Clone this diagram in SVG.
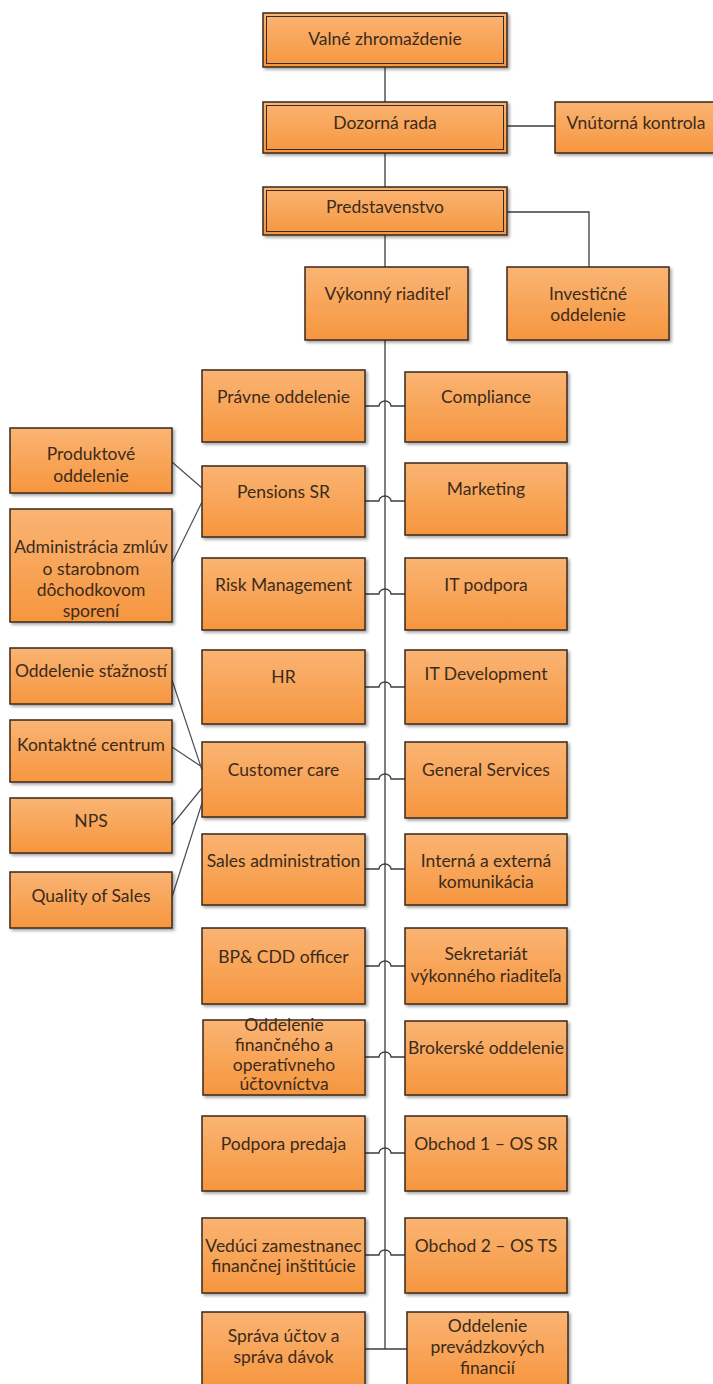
<svg xmlns="http://www.w3.org/2000/svg" width="713" height="1384" viewBox="0 0 713 1384">
<defs>
<linearGradient id="og" x1="0" y1="0" x2="0" y2="1">
<stop offset="0" stop-color="#FAB473"/>
<stop offset="1" stop-color="#F6963F"/>
</linearGradient>
<filter id="sh" x="-10%" y="-10%" width="130%" height="130%">
<feDropShadow dx="2" dy="2" stdDeviation="1.5" flood-color="#000" flood-opacity="0.35"/>
</filter>
</defs>
<style>
.b{fill:url(#og);stroke:#3a2a1c;stroke-width:1.5;filter:url(#sh)}
.bi{fill:none;stroke:#3a2a1c;stroke-width:1}
.t{font-family:Lato,"Open Sans",sans-serif;font-size:17.5px;fill:#3b2b1c;text-anchor:middle}
.c{fill:none;stroke:#3c3c3c;stroke-width:1.3}
.d{fill:none;stroke:#4a4e5a;stroke-width:1.2}
</style>
<rect width="713" height="1384" fill="#fff"/>
<g id="connectors">
<path class="c" d="M385,67V102M385,153V187M385,235V267M507,126H555M507,212H589V267M385,340V1349"/>
<path class="c" d="M365,406H379A6,5 0 0 1 391,406H405"/>
<path class="c" d="M365,501H379A6,5 0 0 1 391,501H405"/>
<path class="c" d="M365,594H379A6,5 0 0 1 391,594H405"/>
<path class="c" d="M365,687H379A6,5 0 0 1 391,687H405"/>
<path class="c" d="M365,779H379A6,5 0 0 1 391,779H405"/>
<path class="c" d="M365,869H379A6,5 0 0 1 391,869H405"/>
<path class="c" d="M365,966H379A6,5 0 0 1 391,966H405"/>
<path class="c" d="M365,1057H379A6,5 0 0 1 391,1057H405"/>
<path class="c" d="M365,1153H379A6,5 0 0 1 391,1153H405"/>
<path class="c" d="M365,1255H379A6,5 0 0 1 391,1255H405"/>
<path class="c" d="M365,1349H407"/>
<path class="d" d="M172,462L202,488M172,563L202,502M172,680L202,770M172,747L202,767M172,825L202,788M172,897L202,803"/>
</g>
<g id="valne"><rect class="b" x="263" y="13" width="244" height="54"/><rect class="bi" x="266.5" y="16.5" width="237" height="47"/><text class="t" x="385" y="45">Valné zhromaždenie</text></g>
<g id="dozorna"><rect class="b" x="263" y="102" width="244" height="51"/><rect class="bi" x="266.5" y="105.5" width="237" height="44"/><text class="t" x="385" y="129">Dozorná rada</text></g>
<g id="vnutorna"><rect class="b" x="555" y="102" width="162" height="51"/><text class="t" x="636" y="129">Vnútorná kontrola</text></g>
<g id="predstavenstvo"><rect class="b" x="263" y="187" width="244" height="48"/><rect class="bi" x="266.5" y="190.5" width="237" height="41"/><text class="t" x="385" y="213">Predstavenstvo</text></g>
<g id="vykonny"><rect class="b" x="305" y="267" width="163" height="73"/><text class="t" x="386.5" y="300">Výkonný riaditeľ</text></g>
<g id="investicne"><rect class="b" x="507" y="267" width="162" height="73"/><text class="t" x="588" y="300">Investičné</text><text class="t" x="588" y="321">oddelenie</text></g>

<g id="pravne"><rect class="b" x="202" y="370" width="163" height="72"/><text class="t" x="283.5" y="403">Právne oddelenie</text></g>
<g id="pensions"><rect class="b" x="202" y="466" width="163" height="71"/><text class="t" x="283.5" y="498">Pensions SR</text></g>
<g id="risk"><rect class="b" x="202" y="558" width="163" height="72"/><text class="t" x="283.5" y="591">Risk Management</text></g>
<g id="hr"><rect class="b" x="202" y="650" width="163" height="74"/><text class="t" x="283.5" y="683">HR</text></g>
<g id="customercare"><rect class="b" x="202" y="742" width="163" height="75"/><text class="t" x="283.5" y="776">Customer care</text></g>
<g id="salesadmin"><rect class="b" x="202" y="834" width="163" height="71"/><text class="t" x="283.5" y="867">Sales administration</text></g>
<g id="bpcdd"><rect class="b" x="202" y="928" width="163" height="76"/><text class="t" x="283.5" y="963">BP&amp; CDD officer</text></g>
<g id="financne"><rect class="b" x="203" y="1020" width="162" height="75"/><text class="t" x="284" y="1031">Oddelenie</text><text class="t" x="284" y="1051">finančného a</text><text class="t" x="284" y="1071">operatívneho</text><text class="t" x="284" y="1090">účtovníctva</text></g>
<g id="podpora"><rect class="b" x="202" y="1116" width="163" height="75"/><text class="t" x="283.5" y="1150">Podpora predaja</text></g>
<g id="veduci"><rect class="b" x="202" y="1218" width="163" height="75"/><text class="t" x="283.5" y="1252">Vedúci zamestnanec</text><text class="t" x="283.5" y="1272">finančnej inštitúcie</text></g>
<g id="sprava"><rect class="b" x="202" y="1312" width="163" height="76"/><text class="t" x="283.5" y="1342">Správa účtov a</text><text class="t" x="283.5" y="1363">správa dávok</text></g>

<g id="compliance"><rect class="b" x="405" y="372" width="162" height="70"/><text class="t" x="486" y="403">Compliance</text></g>
<g id="marketing"><rect class="b" x="405" y="463" width="162" height="72"/><text class="t" x="486" y="495">Marketing</text></g>
<g id="itpodpora"><rect class="b" x="405" y="558" width="162" height="72"/><text class="t" x="486" y="591">IT podpora</text></g>
<g id="itdev"><rect class="b" x="405" y="650" width="162" height="74"/><text class="t" x="486" y="680">IT Development</text></g>
<g id="general"><rect class="b" x="405" y="742" width="162" height="76"/><text class="t" x="486" y="776">General Services</text></g>
<g id="komunikacia"><rect class="b" x="405" y="834" width="162" height="71"/><text class="t" x="486" y="867">Interná a externá</text><text class="t" x="486" y="888">komunikácia</text></g>
<g id="sekretariat"><rect class="b" x="405" y="928" width="162" height="76"/><text class="t" x="486" y="960">Sekretariát</text><text class="t" x="486" y="982">výkonného riaditeľa</text></g>
<g id="brokerske"><rect class="b" x="405" y="1021" width="162" height="74"/><text class="t" x="486" y="1054">Brokerské oddelenie</text></g>
<g id="obchod1"><rect class="b" x="405" y="1116" width="162" height="75"/><text class="t" x="486" y="1150">Obchod 1 – OS SR</text></g>
<g id="obchod2"><rect class="b" x="405" y="1218" width="162" height="75"/><text class="t" x="486" y="1252">Obchod 2 – OS TS</text></g>
<g id="prevadzkove"><rect class="b" x="407" y="1312" width="161" height="76"/><text class="t" x="487.5" y="1332">Oddelenie</text><text class="t" x="487.5" y="1353">prevádzkových</text><text class="t" x="487.5" y="1374">financií</text></g>

<g id="produktove"><rect class="b" x="10" y="428" width="162" height="65"/><text class="t" x="91" y="460">Produktové</text><text class="t" x="91" y="482">oddelenie</text></g>
<g id="administracia"><rect class="b" x="10" y="509" width="162" height="113"/><text class="t" x="91" y="553">Administrácia zmlúv</text><text class="t" x="91" y="575">o starobnom</text><text class="t" x="91" y="596">dôchodkovom</text><text class="t" x="91" y="617">sporení</text></g>
<g id="staznosti"><rect class="b" x="10" y="648" width="162" height="56"/><text class="t" x="91" y="677">Oddelenie sťažností</text></g>
<g id="kontaktne"><rect class="b" x="10" y="720" width="162" height="62"/><text class="t" x="91" y="751">Kontaktné centrum</text></g>
<g id="nps"><rect class="b" x="10" y="798" width="162" height="55"/><text class="t" x="91" y="827">NPS</text></g>
<g id="quality"><rect class="b" x="10" y="872" width="162" height="56"/><text class="t" x="91" y="902">Quality of Sales</text></g>
</svg>
